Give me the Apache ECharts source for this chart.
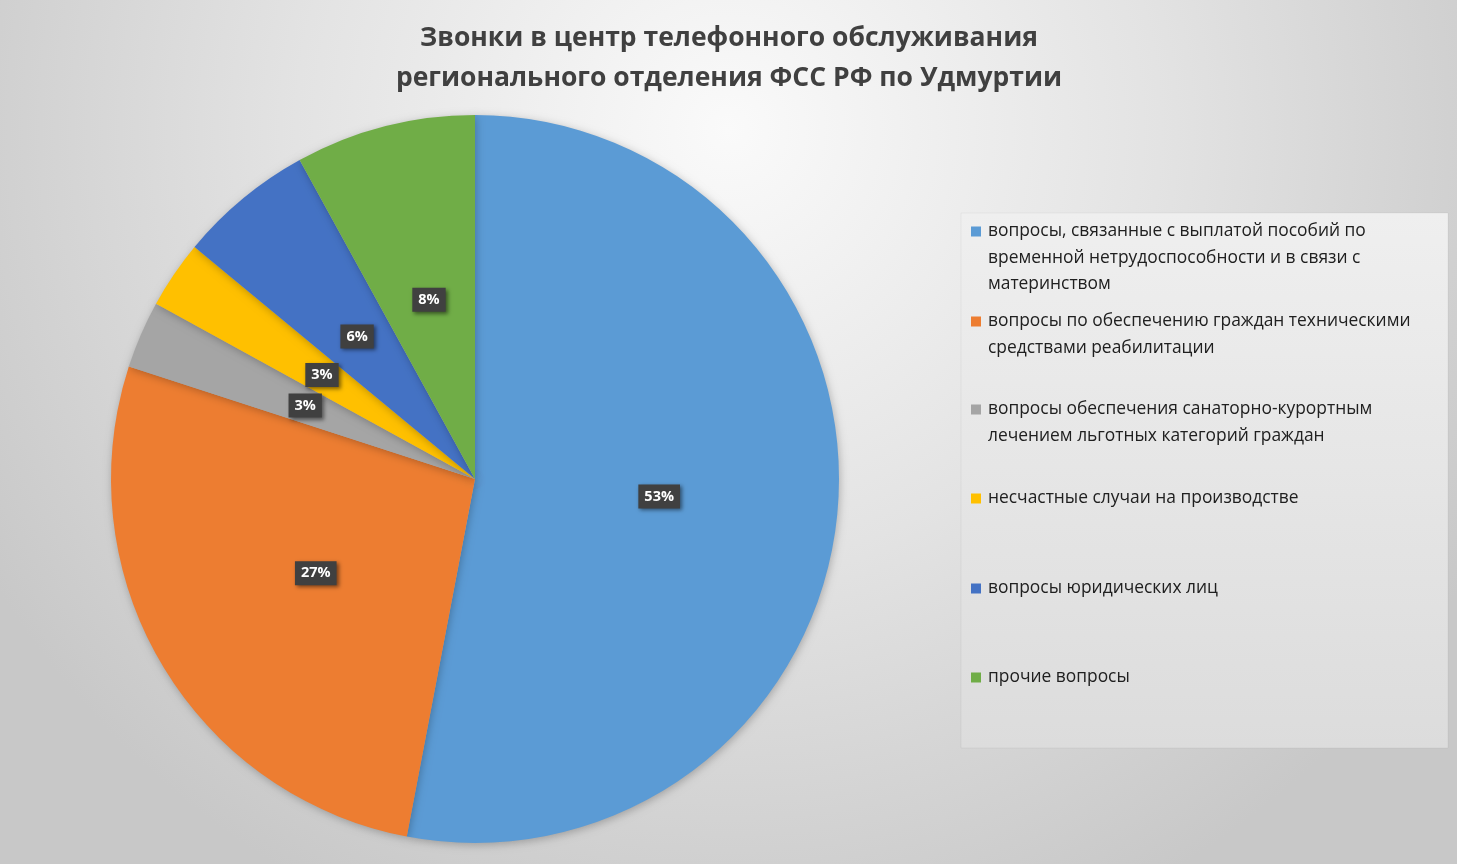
<!DOCTYPE html>
<html>
<head>
<meta charset="utf-8">
<script src="https://cdn.jsdelivr.net/npm/echarts@6/dist/echarts.min.js"></script>
<style>
html,body{margin:0;padding:0;width:1457px;height:864px;overflow:hidden;}
#chart{width:1457px;height:864px;}
</style>
</head>
<body>
<div id="chart"></div>
<script>
const categories = [
  'вопросы, связанные с выплатой пособий по временной нетрудоспособности и в связи с материнством',
  'вопросы по обеспечению граждан техническими средствами реабилитации',
  'вопросы обеспечения санаторно-курортным лечением льготных категорий граждан',
  'несчастные случаи на производстве',
  'вопросы юридических лиц',
  'прочие вопросы'
];
const legendLines = [
  ['вопросы, связанные с выплатой пособий по', 'временной нетрудоспособности и в связи с', 'материнством'],
  ['вопросы по обеспечению граждан техническими', 'средствами реабилитации'],
  ['вопросы обеспечения санаторно-курортным', 'лечением льготных категорий граждан'],
  ['несчастные случаи на производстве'],
  ['вопросы юридических лиц'],
  ['прочие вопросы']
];
const values = [53, 27, 3, 3, 6, 8];
const colors = ['#5B9BD5', '#ED7D31', '#A5A5A5', '#FFC000', '#4472C4', '#70AD47'];
const titleText = 'Звонки в центр телефонного обслуживания\nрегионального отделения ФСС РФ по Удмуртии';

const FONT = '"Open Sans", "Noto Sans", sans-serif';
const legendTops = [218, 308, 396, 485, 575, 664];

const legends = categories.map((name, i) => {
  const rich = {
    sq: { width: 10, height: 10, backgroundColor: colors[i], padding: 0 },
    t: { fontSize: 17.4, fontFamily: FONT, color: '#202020', lineHeight: 26.5, padding: [0, 0, 0, 7] },
    c: { fontSize: 17.4, fontFamily: FONT, color: '#202020', lineHeight: 26.5, padding: [0, 0, 0, 17] }
  };
  return {
    show: true,
    data: [name],
    left: 966,
    top: legendTops[i] + 5,
    orient: 'vertical',
    icon: 'rect',
    itemWidth: 0,
    itemHeight: 0,
    padding: 0,
    selectedMode: false,
    textStyle: { rich: rich, padding: 0 },
    formatter: function () {
      const ls = legendLines[i];
      let s = '{sq|}{t|' + ls[0] + '}';
      for (let k = 1; k < ls.length; k++) s += '\n{c|' + ls[k] + '}';
      return s;
    }
  };
});

const chart = echarts.init(document.getElementById('chart'), null, { renderer: 'canvas' });
chart.setOption({
  backgroundColor: {
    type: 'radial', x: 0.5, y: 0.15, r: 1.0,
    colorStops: [
      { offset: 0, color: '#fafafa' },
      { offset: 0.5, color: '#e3e3e3' },
      { offset: 1, color: '#c8c8c8' }
    ]
  },
  animation: false,
  color: colors,
  title: {
    text: titleText,
    left: 724,
    top: 13,
    textAlign: 'center',
    textStyle: {
      fontFamily: FONT,
      fontSize: 26.5,
      fontWeight: 'bold',
      color: '#404040',
      lineHeight: 40
    }
  },
  graphic: [{
    type: 'rect',
    z: -1,
    shape: { x: 961, y: 213, width: 487, height: 535 },
    style: {
      fill: {
        type: 'linear', x: 0, y: 0, x2: 0, y2: 1,
        colorStops: [{ offset: 0, color: '#efefef' }, { offset: 1, color: '#dcdcdc' }]
      },
      stroke: 'rgba(0,0,0,0.04)'
    }
  }],
  legend: legends,
  series: [{
    type: 'pie',
    center: [475, 479],
    radius: [0, 364],
    startAngle: 90,
    clockwise: true,
    avoidLabelOverlap: false,
    itemStyle: {
      shadowBlur: 8,
      shadowColor: 'rgba(0,0,0,0.25)',
      shadowOffsetX: 1,
      shadowOffsetY: 2
    },
    label: {
      show: true,
      position: 'inside',
      formatter: '{c}%',
      color: '#ffffff',
      fontFamily: FONT,
      fontWeight: 'bold',
      fontSize: 14.5,
      backgroundColor: '#404040',
      padding: [5, 6, 4, 6],
      shadowBlur: 4,
      shadowColor: 'rgba(0,0,0,0.5)',
      shadowOffsetX: 2,
      shadowOffsetY: 2
    },
    labelLine: { show: false },
    emphasis: { disabled: true },
    data: categories.map((n, i) => ({ name: n, value: values[i] }))
  }]
});
</script>
</body>
</html>
